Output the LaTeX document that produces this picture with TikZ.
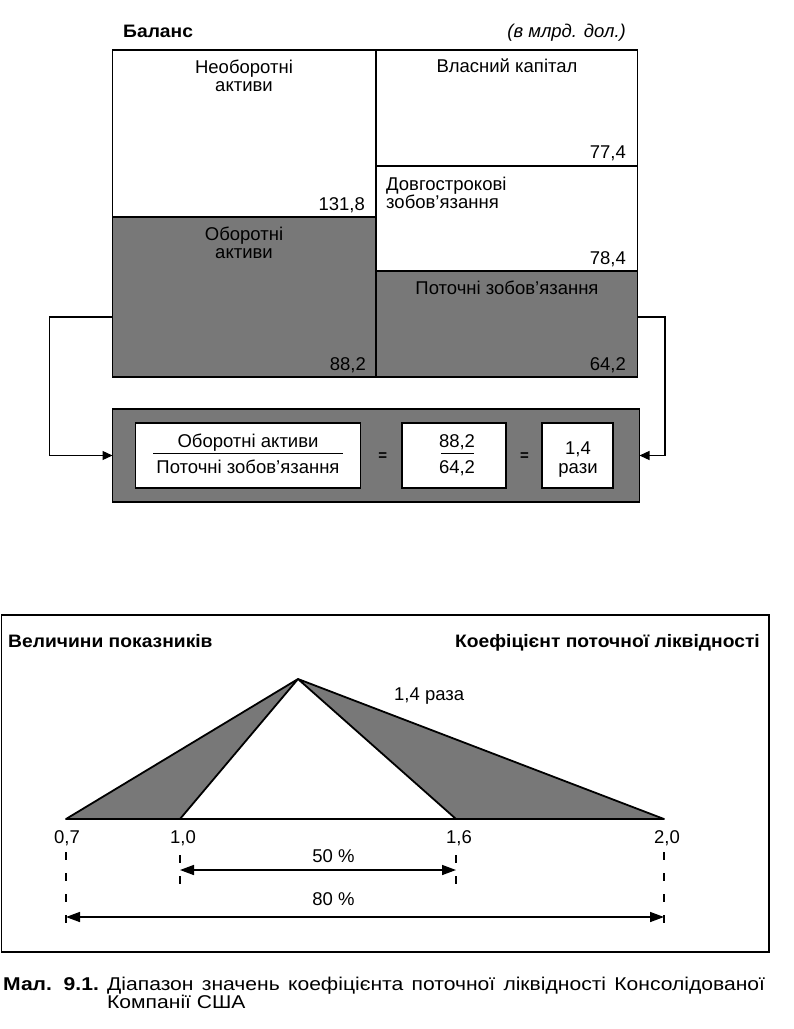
\documentclass[tikz,border=0pt]{standalone}
\usepackage{fontspec}
\setmainfont{Liberation Sans}
\newfontfamily\hdfont{Liberation Sans}[FakeStretch=1.07]
\newfontfamily\capfont{Liberation Sans}[FakeStretch=1.14]
\usetikzlibrary{arrows.meta,calc}
\definecolor{boxgray}{RGB}{120,120,120}
\tikzset{
  cell/.style={draw=black, line width=1.8pt, anchor=north west, inner sep=0pt, outer sep=0pt},
  grayc/.style={cell, fill=boxgray},
  whitec/.style={cell, fill=white},
  lbl/.style={font=\fontsize{18.5}{18}\selectfont, inner sep=0pt, anchor=base, align=center},
  lblw/.style={lbl, anchor=base west, align=left},
  lble/.style={lbl, anchor=base east, align=right},
  boldlbl/.style={font=\hdfont\bfseries\fontsize{18}{18}\selectfont, inner sep=0pt},
  caplbl/.style={font=\capfont\fontsize{18.5}{18}\selectfont, inner sep=0pt, anchor=base west},
  conn/.style={line width=1.3pt, -{Triangle[length=10pt,width=9pt]}},
  dimarrow/.style={line width=1.5pt, {Triangle[length=14pt,width=10pt]}-{Triangle[length=14pt,width=10pt]}},
  dashln/.style={line width=1.5pt, dash pattern=on 8pt off 13pt},
  tri/.style={fill=boxgray, draw=black, line width=1.8pt, line join=round},
  eqs/.style={font=\bfseries\fontsize{15}{15}\selectfont, inner sep=0pt},
}
\begin{document}
\begin{tikzpicture}[x=1pt, y=-1pt]
\useasboundingbox (0,0) rectangle (794,1029);
\fill[white] (0,0) rectangle (794,1029);

% ---- titles
\node[boldlbl, anchor=base west] (tbal) at (123,37) {Баланс};
\node[lble, font=\itshape\fontsize{18.5}{18}\selectfont] (tunit) at (626,37) {(в млрд. дол.)};

% ---- balance cells
\node[whitec, minimum width=263.5pt, minimum height=167pt] (na) at (112.5,50) {};
\node[grayc,  minimum width=263.5pt, minimum height=160pt] (oa) at (112.5,217) {};
\node[whitec, minimum width=261.5pt, minimum height=116pt] (vk) at (376,50) {};
\node[whitec, minimum width=261.5pt, minimum height=105pt] (dz) at (376,166) {};
\node[grayc,  minimum width=261.5pt, minimum height=106pt] (pz) at (376,271) {};

\node[lbl] (tna) at (244,91) {Необоротні\\активи};
\node[lble] (vna) at (365,210) {131,8};
\node[lbl] (toa) at (244,258) {Оборотні\\активи};
\node[lble] (voa) at (366,370) {88,2};
\node[lbl] (tvk) at (507,72) {Власний капітал};
\node[lble] (vvk) at (626,158) {77,4};
\node[lblw] (tdz) at (386,208) {Довгострокові\\зобов’язання};
\node[lble] (vdz) at (626,264) {78,4};
\node[lbl] (tpz) at (507,294) {Поточні зобов’язання};
\node[lble] (vpz) at (626,370) {64,2};

% ---- formula box
\node[grayc, minimum width=527pt, minimum height=93pt] (frm) at (112.5,409) {};
\node[whitec, minimum width=225pt, minimum height=65pt] (b1) at (135.5,423) {};
\node[whitec, minimum width=104pt, minimum height=65pt] (b2) at (402,423) {};
\node[whitec, minimum width=71pt, minimum height=65pt] (b3) at (542,423) {};
\node[lbl] (f1n) at (248,447) {Оборотні активи};
\node[lbl] (f1d) at (248,473) {Поточні зобов’язання};
\draw[line width=1pt] (153,453) -- (343,453);
\node[eqs] (eq1) at (382.7,457) {=};
\node[lbl] (f2n) at (457,447) {88,2};
\node[lbl] (f2d) at (457,473) {64,2};
\draw[line width=1pt] (441,453) -- (474,453);
\node[eqs] (eq2) at (524.6,457) {=};
\node[lbl] (f3) at (578,473) {1,4\\[1pt]рази};

% ---- connectors
\coordinate (ls) at (112.5,317);
\coordinate (lc) at (49.7,317);
\coordinate (rs) at (637.5,317);
\coordinate (rc) at (665,317);
\draw[conn] (ls) -- (lc) |- (frm.west);
\draw[conn] (rs) -- (rc) |- (frm.east);

% ---- lower frame
\draw[line width=1.8pt] (1.5,615) rectangle (769,952);
\node[boldlbl, anchor=base west] (hl) at (8,647) {Величини показників};
\node[boldlbl, anchor=base east] (hr) at (760,647) {Коефіцієнт поточної ліквідності};

\coordinate (ap) at (298,679);
\coordinate (p07) at (66,819);
\coordinate (p10) at (180,819);
\coordinate (p16) at (456,819);
\coordinate (p20) at (664,819);
\draw[tri] (ap) -- (p07) -- (p10) -- cycle;
\draw[tri] (ap) -- (p16) -- (p20) -- cycle;
\draw[line width=2.5pt] (p07) -- (p20);
\node[lblw] (t14) at (394,700) {1,4 раза};

\node[lbl] (n07) at (67,843) {0,7};
\node[lbl] (n10) at (183,843) {1,0};
\node[lbl] (n16) at (459,843) {1,6};
\node[lbl] (n20) at (667,843) {2,0};

\coordinate (d07a) at (66,852);  \coordinate (d07b) at (66,925);
\coordinate (d20a) at (664,852); \coordinate (d20b) at (664,925);
\coordinate (d10a) at (180,855); \coordinate (d10b) at (180,887);
\coordinate (d16a) at (456,855); \coordinate (d16b) at (456,887);
\draw[dashln] (d07a) -- (d07b);
\draw[dashln] (d20a) -- (d20b);
\draw[dashln] (d10a) -- (d10b);
\draw[dashln] (d16a) -- (d16b);

\coordinate (a10) at (180,870); \coordinate (a16) at (456,870);
\coordinate (a07) at (66,917);  \coordinate (a20) at (664,917);
\draw[dimarrow] (a10) -- (a16);
\draw[dimarrow] (a07) -- (a20);
\node[lbl] (p50) at (333.5,862) {50 \%};
\node[lbl] (p80) at (333.5,905) {80 \%};

% ---- caption
\node[caplbl, font=\capfont\bfseries\fontsize{18.5}{18}\selectfont] (capn) at (3,990) {Мал.\ \ 9.1.};
\node[caplbl] (cap1) at (107,990) {\makebox[658pt][s]{Діапазон значень коефіцієнта поточної ліквідності Консолідованої}};
\node[caplbl] (cap2) at (107,1008) {Компанії США};
\end{tikzpicture}
\end{document}
